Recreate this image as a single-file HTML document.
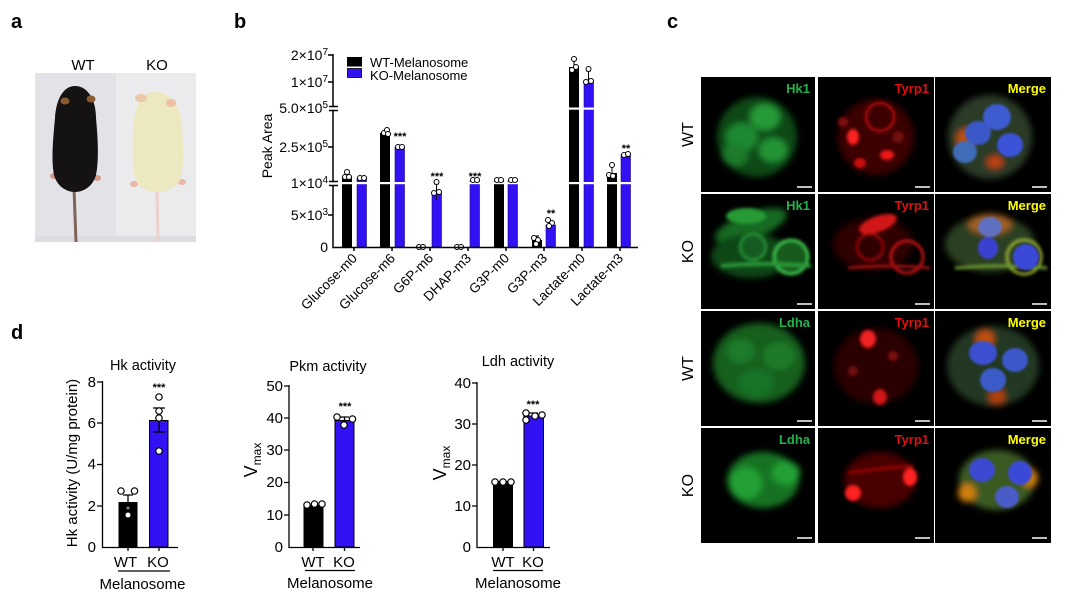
<!DOCTYPE html>
<html><head><meta charset="utf-8"><style>
html,body{margin:0;padding:0;background:#fff;}
svg{display:block;font-family:"Liberation Sans",Arial,sans-serif;}
</style></head><body>
<svg width="1065" height="603" viewBox="0 0 1065 603" xmlns="http://www.w3.org/2000/svg">
<defs>
<filter id="b1" x="-30%" y="-30%" width="160%" height="160%"><feGaussianBlur stdDeviation="1.6"/></filter>
<filter id="b2" x="-30%" y="-30%" width="160%" height="160%"><feGaussianBlur stdDeviation="3.2"/></filter>
<filter id="b3" x="-30%" y="-30%" width="160%" height="160%"><feGaussianBlur stdDeviation="1"/></filter>
</defs>
<rect width="1065" height="603" fill="#fff"/>

<!-- panel letters -->
<g font-weight="bold" font-size="20" fill="#000">
<text x="11" y="28">a</text>
<text x="234" y="28">b</text>
<text x="667" y="28">c</text>
<text x="11" y="339">d</text>
</g>

<!-- ===== Panel a ===== -->
<text x="83" y="70" font-size="15" text-anchor="middle">WT</text>
<text x="157" y="70" font-size="15" text-anchor="middle">KO</text>
<rect x="35" y="73" width="81" height="169" fill="#e3e3e7"/>
<rect x="116" y="73" width="80" height="169" fill="#ebebed"/>
<rect x="35" y="236" width="161" height="6" fill="#dcdce2"/>
<!-- black mouse -->
<line x1="74" y1="188" x2="76" y2="242" stroke="#7d6456" stroke-width="3"/>
<ellipse cx="54" cy="176" rx="4" ry="3" fill="#d49a8a"/>
<ellipse cx="97" cy="178" rx="4" ry="3" fill="#d49a8a"/>
<path d="M75,86 C88,86 96,100 96,118 C98,140 99,160 96,175 C93,186 84,192 75,192 C66,192 57,186 54,175 C51,160 53,140 55,118 C56,100 63,86 75,86 Z" fill="#141212"/>
<ellipse cx="65" cy="101" rx="4.5" ry="3.5" fill="#8a5a30"/>
<ellipse cx="91" cy="99" rx="4.5" ry="3.5" fill="#8a5a30"/>
<!-- white mouse -->
<line x1="157" y1="188" x2="158" y2="242" stroke="#ecd2cc" stroke-width="3"/>
<ellipse cx="134" cy="184" rx="4" ry="3" fill="#e9b7a8"/>
<ellipse cx="182" cy="182" rx="4" ry="3" fill="#e9b7a8"/>
<path d="M155,92 C170,92 180,105 181,120 C184,145 184,165 181,178 C177,188 166,192 158,192 C148,192 138,188 135,178 C132,163 132,140 134,120 C136,105 142,92 155,92 Z" fill="#ece8bf"/>
<ellipse cx="141" cy="98" rx="6" ry="4" fill="#ecc9a8"/>
<ellipse cx="171" cy="103" rx="5" ry="4" fill="#efbfa6"/>

<!-- ===== Panel b ===== -->
<g font-size="14" text-anchor="end">
<text x="328" y="60">2×10<tspan dy="-5" font-size="10">7</tspan></text>
<text x="328" y="87">1×10<tspan dy="-5" font-size="10">7</tspan></text>
<text x="328" y="113">5.0×10<tspan dy="-5" font-size="10">5</tspan></text>
<text x="328" y="152">2.5×10<tspan dy="-5" font-size="10">5</tspan></text>
<text x="328" y="188">1×10<tspan dy="-5" font-size="10">4</tspan></text>
<text x="328" y="220">5×10<tspan dy="-5" font-size="10">3</tspan></text>
<text x="328" y="252">0</text>
</g>
<text transform="translate(272,146) rotate(-90)" font-size="14" text-anchor="middle">Peak Area</text>

<!-- bars WT -->
<g fill="#000">
<rect x="342" y="177" width="10" height="70"/>
<rect x="380" y="133" width="10" height="114"/>
<rect x="494" y="181" width="10" height="66"/>
<rect x="532" y="240" width="10" height="7"/>
<rect x="569" y="67" width="10" height="180"/>
<rect x="607" y="173" width="10" height="74"/>
</g>
<!-- bars KO -->
<g fill="#3311f5" stroke="#1a0880" stroke-width="0.6">
<rect x="357" y="178" width="9.5" height="69"/>
<rect x="395" y="147" width="9.5" height="100"/>
<rect x="432" y="192" width="9.5" height="55"/>
<rect x="470" y="181" width="9.5" height="66"/>
<rect x="508" y="181" width="9.5" height="66"/>
<rect x="546" y="225" width="9.5" height="22"/>
<rect x="584" y="80" width="9.5" height="167"/>
<rect x="621" y="155" width="9.5" height="92"/>
</g>
<!-- break gaps -->
<rect x="334" y="182" width="305" height="2.2" fill="#fff"/>
<rect x="334" y="107.5" width="305" height="2.2" fill="#fff"/>
<!-- error bars b -->
<g stroke="#000" stroke-width="1" fill="none">
<path d="M347,171V177M345,171H349"/>
<path d="M436.5,184V192M434,184H439M436.5,196V200"/>
<path d="M574,60V67M572,60H576"/>
<path d="M588.5,71V80M586,71H591"/>
<path d="M612,166V173M610,166H614"/>
<path d="M537,236V240M535,236H539"/>
</g>
<!-- circles b -->
<g fill="#fff" stroke="#000" stroke-width="1">
<circle cx="347" cy="172" r="2.5"/><circle cx="345" cy="177" r="2.5"/><circle cx="349" cy="177" r="2.5"/>
<circle cx="360" cy="178" r="2.5"/><circle cx="364" cy="178" r="2.5"/>
<circle cx="384" cy="133" r="2.5"/><circle cx="387" cy="130" r="2.5"/><circle cx="388" cy="134" r="2.5"/>
<circle cx="398" cy="147" r="2.5"/><circle cx="402" cy="147" r="2.5"/>
<circle cx="419" cy="247" r="2.5"/><circle cx="423" cy="247" r="2.5"/>
<circle cx="436.5" cy="182" r="2.5"/><circle cx="434" cy="193" r="2.5"/><circle cx="439" cy="192" r="2.5"/>
<circle cx="457" cy="247" r="2.5"/><circle cx="461" cy="247" r="2.5"/>
<circle cx="473" cy="180" r="2.5"/><circle cx="477" cy="180" r="2.5"/>
<circle cx="497" cy="180" r="2.5"/><circle cx="501" cy="180" r="2.5"/>
<circle cx="511" cy="180" r="2.5"/><circle cx="515" cy="180" r="2.5"/>
<circle cx="534" cy="238" r="2.5"/><circle cx="538" cy="240" r="2.5"/><circle cx="536" cy="244" r="2.5"/>
<circle cx="548" cy="220" r="2.5"/><circle cx="552" cy="223" r="2.5"/><circle cx="549" cy="226" r="2.5"/>
<circle cx="574" cy="59" r="2.5"/><circle cx="572" cy="70" r="2.5"/><circle cx="576" cy="67" r="2.5"/>
<circle cx="588.5" cy="69" r="2.5"/><circle cx="586" cy="82" r="2.5"/><circle cx="591" cy="81" r="2.5"/>
<circle cx="612" cy="165" r="2.5"/><circle cx="609" cy="175" r="2.5"/><circle cx="613" cy="176" r="2.5"/>
<circle cx="624" cy="155" r="2.5"/><circle cx="628" cy="154" r="2.5"/>
</g>
<!-- stars b -->
<g font-size="11" font-weight="bold" text-anchor="middle">
<text x="400" y="140">***</text>
<text x="437" y="180">***</text>
<text x="475" y="180">***</text>
<text x="551" y="217">**</text>
<text x="626" y="152">**</text>
</g>
<!-- axes b -->
<g stroke="#000" stroke-width="1.5" fill="none">
<path d="M333,54V106M333,111V181M333,186V247.5H638"/>
<path d="M328,55H333M328,82H333M328,147H333M328,215H333"/>
<path d="M329,106.5H338M329,110.5H338M329,181.5H338M329,185.5H338"/>
<path d="M354,247V251M392,247V251M430,247V251M468,247V251M506,247V251M544,247V251M582,247V251M620,247V251"/>
</g>
<!-- legend -->
<rect x="347" y="57" width="15" height="9.5" fill="#000"/>
<rect x="347.5" y="68.5" width="14" height="9" fill="#3311f5" stroke="#000" stroke-width="0.8"/>
<text x="370" y="67" font-size="13">WT-Melanosome</text>
<text x="370" y="80" font-size="13">KO-Melanosome</text>
<!-- x labels -->
<g font-size="13.5" text-anchor="end">
<text transform="translate(358,259) rotate(-45)">Glucose-m0</text>
<text transform="translate(396,259) rotate(-45)">Glucose-m6</text>
<text transform="translate(434,259) rotate(-45)">G6P-m6</text>
<text transform="translate(472,259) rotate(-45)">DHAP-m3</text>
<text transform="translate(510,259) rotate(-45)">G3P-m0</text>
<text transform="translate(548,259) rotate(-45)">G3P-m3</text>
<text transform="translate(586,259) rotate(-45)">Lactate-m0</text>
<text transform="translate(624,259) rotate(-45)">Lactate-m3</text>
</g>

<!-- ===== Panel d ===== -->
<!-- Hk -->
<text x="143" y="370" font-size="14.5" text-anchor="middle">Hk activity</text>
<text transform="translate(77,463) rotate(-90)" font-size="15" text-anchor="middle">Hk activity (U/mg protein)</text>
<g font-size="15" text-anchor="end">
<text x="96" y="387">8</text><text x="96" y="428">6</text><text x="96" y="469">4</text><text x="96" y="511">2</text><text x="96" y="552">0</text>
</g>
<rect x="118.5" y="502" width="19" height="45" fill="#000"/>
<rect x="149.5" y="420.5" width="18.5" height="126.5" fill="#3311f5" stroke="#000" stroke-width="1"/>
<g stroke="#000" stroke-width="1.3" fill="none">
<path d="M128,495V502M123,495H133"/>
<path d="M159,408V432M153,408H165M153,432H165"/>
<path d="M102.5,381V547.5H178"/>
<path d="M97,382H102M97,423H102M97,464.5H102M97,506H102"/>
<path d="M128,547V551M159,547V551"/>
</g>
<g fill="#fff" stroke="#000" stroke-width="1.2">
<circle cx="121" cy="491" r="3.2"/><circle cx="134.5" cy="491" r="3.2"/>
<circle cx="159" cy="397" r="3.2"/><circle cx="159" cy="411" r="3.2"/><circle cx="159" cy="418" r="3.2"/><circle cx="159" cy="451" r="3.2"/>
</g>
<circle cx="128" cy="515" r="2.5" fill="#fff"/>
<circle cx="128" cy="508" r="1.5" fill="#888"/>
<text x="159" y="391" font-size="11" font-weight="bold" text-anchor="middle">***</text>
<g font-size="15" text-anchor="middle">
<text x="125.5" y="567">WT</text><text x="158" y="567">KO</text>
<text x="142.5" y="589">Melanosome</text>
</g>
<line x1="118" y1="571" x2="170" y2="571" stroke="#000" stroke-width="1.3"/>

<!-- Pkm -->
<text x="328" y="371" font-size="14.5" text-anchor="middle">Pkm activity</text>
<text transform="translate(257,460) rotate(-90)" font-size="18" text-anchor="middle">V<tspan font-size="12" dy="4">max</tspan></text>
<g font-size="15" text-anchor="end">
<text x="283" y="391">50</text><text x="283" y="423">40</text><text x="283" y="455">30</text><text x="283" y="487">20</text><text x="283" y="520">10</text><text x="283" y="552">0</text>
</g>
<rect x="303.5" y="505" width="20" height="42" fill="#000"/>
<rect x="335" y="420.5" width="19" height="126.5" fill="#3311f5" stroke="#000" stroke-width="1"/>
<g stroke="#000" stroke-width="1.3" fill="none">
<path d="M289,385V547.5H360"/>
<path d="M284,386H289M284,418H289M284,450H289M284,482.5H289M284,515H289"/>
<path d="M313,547V551M344.5,547V551"/>
<path d="M344.5,417V423M340,417H349"/>
</g>
<g fill="#fff" stroke="#000" stroke-width="1.2">
<circle cx="307" cy="505" r="3.2"/><circle cx="314.5" cy="504" r="3.2"/><circle cx="322" cy="504" r="3.2"/>
<circle cx="337" cy="417" r="3.2"/><circle cx="344" cy="425" r="3.2"/><circle cx="352.5" cy="419" r="3.2"/>
</g>
<text x="345" y="410" font-size="11" font-weight="bold" text-anchor="middle">***</text>
<g font-size="15" text-anchor="middle">
<text x="313" y="567">WT</text><text x="344" y="567">KO</text>
<text x="330" y="588">Melanosome</text>
</g>
<line x1="305" y1="570.5" x2="355" y2="570.5" stroke="#000" stroke-width="1.3"/>

<!-- Ldh -->
<text x="518" y="366" font-size="14.5" text-anchor="middle">Ldh activity</text>
<text transform="translate(446,463) rotate(-90)" font-size="18" text-anchor="middle">V<tspan font-size="12" dy="4">max</tspan></text>
<g font-size="15" text-anchor="end">
<text x="471" y="388">40</text><text x="471" y="429">30</text><text x="471" y="470">20</text><text x="471" y="511">10</text><text x="471" y="552">0</text>
</g>
<rect x="493" y="481" width="20" height="66" fill="#000"/>
<rect x="524" y="416" width="19.5" height="131" fill="#3311f5" stroke="#000" stroke-width="1"/>
<g stroke="#000" stroke-width="1.3" fill="none">
<path d="M477,382V547.5H550"/>
<path d="M472,383H477M472,424H477M472,465H477M472,506H477"/>
<path d="M503,547V551M533.5,547V551"/>
<path d="M533.5,413V418M529,413H538"/>
</g>
<g fill="#fff" stroke="#000" stroke-width="1.2">
<circle cx="495" cy="482" r="3.2"/><circle cx="503" cy="482" r="3.2"/><circle cx="511" cy="482" r="3.2"/>
<circle cx="526" cy="413" r="3.2"/><circle cx="526" cy="420" r="3.2"/><circle cx="535" cy="416" r="3.2"/><circle cx="542" cy="415" r="3.2"/>
</g>
<text x="533" y="408" font-size="11" font-weight="bold" text-anchor="middle">***</text>
<g font-size="15" text-anchor="middle">
<text x="503" y="567">WT</text><text x="533" y="567">KO</text>
<text x="518" y="588">Melanosome</text>
</g>
<line x1="493" y1="570.5" x2="543" y2="570.5" stroke="#000" stroke-width="1.3"/>

<!-- ===== Panel c ===== -->
<g font-size="16" text-anchor="middle">
<text transform="translate(693,134.5) rotate(-90)">WT</text>
<text transform="translate(693,251.5) rotate(-90)">KO</text>
<text transform="translate(693,368.5) rotate(-90)">WT</text>
<text transform="translate(693,485.5) rotate(-90)">KO</text>
</g>

<!-- Row 1 -->
<svg x="701" y="77" width="114" height="115">
<rect width="114" height="115" fill="#000"/>
<g filter="url(#b2)">
<ellipse cx="56" cy="60" rx="40" ry="40" fill="#0d4a18"/>
<ellipse cx="64" cy="40" rx="15" ry="13" fill="#259a38"/>
<ellipse cx="41" cy="60" rx="16" ry="14" fill="#1f8a30"/>
<ellipse cx="72" cy="73" rx="14" ry="12" fill="#239436"/>
<ellipse cx="34" cy="78" rx="13" ry="11" fill="#1a7c2a"/>
</g>
<text x="109" y="16" font-size="13" font-weight="bold" fill="#22b24c" text-anchor="end">Hk1</text>
<line x1="96" y1="110" x2="111" y2="110" stroke="#fff" stroke-width="1.5"/>
</svg>
<svg x="818" y="77" width="116" height="115">
<rect width="116" height="115" fill="#000"/>
<g filter="url(#b2)">
<ellipse cx="58" cy="60" rx="38" ry="38" fill="#3a0202"/>
</g>
<g filter="url(#b1)">
<circle cx="62" cy="40" r="14" fill="none" stroke="#c01010" stroke-width="2.5"/>
<ellipse cx="35" cy="60" rx="6" ry="8" fill="#ff2020"/>
<ellipse cx="69" cy="78" rx="7" ry="5" fill="#f01818"/>
<ellipse cx="42" cy="86" rx="6" ry="5" fill="#d01010"/>
<circle cx="25" cy="45" r="5" fill="#801010"/>
<circle cx="80" cy="60" r="6" fill="#701010"/>
</g>
<text x="111" y="16" font-size="13" font-weight="bold" fill="#e01010" text-anchor="end">Tyrp1</text>
<line x1="97" y1="110" x2="112" y2="110" stroke="#fff" stroke-width="1.5"/>
</svg>
<svg x="935" y="77" width="116" height="115">
<rect width="116" height="115" fill="#000"/>
<g filter="url(#b2)">
<ellipse cx="55" cy="60" rx="42" ry="42" fill="#2b3a28"/>
<ellipse cx="30" cy="62" rx="8" ry="10" fill="#c05010"/>
<ellipse cx="60" cy="85" rx="8" ry="6" fill="#c04010"/>
</g>
<g filter="url(#b3)">
<ellipse cx="62" cy="40" rx="14" ry="13" fill="#3e5cd0"/>
<ellipse cx="43" cy="56" rx="13" ry="12" fill="#3a58c8"/>
<ellipse cx="75" cy="68" rx="13" ry="12" fill="#3a52d8"/>
<ellipse cx="30" cy="75" rx="12" ry="11" fill="#3f6cb8"/>
</g>
<text x="111" y="16" font-size="13" font-weight="bold" fill="#ffff00" text-anchor="end">Merge</text>
<line x1="97" y1="110" x2="112" y2="110" stroke="#fff" stroke-width="1.5"/>
</svg>

<!-- Row 2 -->
<svg x="701" y="194" width="114" height="115">
<rect width="114" height="115" fill="#000"/>
<g filter="url(#b2)">
<ellipse cx="50" cy="32" rx="38" ry="13" transform="rotate(-20 50 32)" fill="#176a22"/>
<ellipse cx="50" cy="62" rx="40" ry="22" fill="#0e4616"/>
</g>
<g filter="url(#b1)">
<circle cx="52" cy="53" r="13" fill="#165c20" stroke="#2aa03a" stroke-width="2"/>
<circle cx="90" cy="63" r="17" fill="#145a1e" stroke="#3cc04c" stroke-width="3"/>
<path d="M20,72 Q60,68 110,72" stroke="#2a9a38" stroke-width="4" fill="none"/>
<ellipse cx="45" cy="22" rx="20" ry="8" fill="#289a36"/>
</g>
<text x="109" y="16" font-size="13" font-weight="bold" fill="#22b24c" text-anchor="end">Hk1</text>
<line x1="96" y1="110" x2="111" y2="110" stroke="#fff" stroke-width="1.5"/>
</svg>
<svg x="818" y="194" width="116" height="115">
<rect width="116" height="115" fill="#000"/>
<g filter="url(#b2)">
<ellipse cx="55" cy="50" rx="40" ry="26" fill="#2e0202"/>
</g>
<g filter="url(#b1)">
<ellipse cx="60" cy="30" rx="20" ry="8" transform="rotate(-20 60 30)" fill="#d01818"/>
<circle cx="52" cy="53" r="13" fill="none" stroke="#c01010" stroke-width="2"/>
<circle cx="89" cy="63" r="16" fill="none" stroke="#e01818" stroke-width="2.5"/>
<path d="M30,74 Q70,70 112,74" stroke="#a01010" stroke-width="3" fill="none"/>
</g>
<text x="111" y="16" font-size="13" font-weight="bold" fill="#e01010" text-anchor="end">Tyrp1</text>
<line x1="97" y1="110" x2="112" y2="110" stroke="#fff" stroke-width="1.5"/>
</svg>
<svg x="935" y="194" width="116" height="115">
<rect width="116" height="115" fill="#000"/>
<g filter="url(#b2)">
<ellipse cx="55" cy="50" rx="45" ry="28" fill="#2a4020"/>
<ellipse cx="55" cy="30" rx="22" ry="10" fill="#a06020"/>
</g>
<g filter="url(#b1)">
<circle cx="89" cy="63" r="17" fill="none" stroke="#9ab030" stroke-width="3"/>
<path d="M20,74 Q70,70 112,74" stroke="#70a030" stroke-width="3" fill="none"/>
</g>
<g filter="url(#b3)">
<ellipse cx="55" cy="33" rx="12" ry="10" fill="#6070c0"/>
<ellipse cx="53" cy="54" rx="10" ry="11" fill="#3a40d0"/>
<ellipse cx="91" cy="63" rx="13" ry="13" fill="#3a48d8"/>
</g>
<text x="111" y="16" font-size="13" font-weight="bold" fill="#ffff00" text-anchor="end">Merge</text>
<line x1="97" y1="110" x2="112" y2="110" stroke="#fff" stroke-width="1.5"/>
</svg>

<!-- Row 3 -->
<svg x="701" y="311" width="114" height="115">
<rect width="114" height="115" fill="#000"/>
<g filter="url(#b2)">
<ellipse cx="58" cy="52" rx="46" ry="40" fill="#125e1e"/>
<ellipse cx="40" cy="40" rx="14" ry="12" fill="#1a7c2a"/>
<ellipse cx="78" cy="45" rx="16" ry="14" fill="#1a7a28"/>
<ellipse cx="55" cy="72" rx="18" ry="14" fill="#187426"/>
</g>
<text x="109" y="16" font-size="13" font-weight="bold" fill="#22b24c" text-anchor="end">Ldha</text>
<line x1="96" y1="110" x2="111" y2="110" stroke="#fff" stroke-width="1.5"/>
</svg>
<svg x="818" y="311" width="116" height="115">
<rect width="116" height="115" fill="#000"/>
<g filter="url(#b2)">
<ellipse cx="58" cy="55" rx="42" ry="38" fill="#2a0202"/>
</g>
<g filter="url(#b1)">
<ellipse cx="50" cy="28" rx="8" ry="9" fill="#f02020"/>
<ellipse cx="62" cy="86" rx="7" ry="8" fill="#d01414"/>
<circle cx="75" cy="45" r="5" fill="#801010"/>
<circle cx="35" cy="60" r="5" fill="#701010"/>
</g>
<text x="111" y="16" font-size="13" font-weight="bold" fill="#e01010" text-anchor="end">Tyrp1</text>
<line x1="97" y1="110" x2="112" y2="110" stroke="#fff" stroke-width="1.5"/>
</svg>
<svg x="935" y="311" width="116" height="115">
<rect width="116" height="115" fill="#000"/>
<g filter="url(#b2)">
<ellipse cx="58" cy="55" rx="46" ry="40" fill="#243820"/>
<ellipse cx="50" cy="28" rx="9" ry="9" fill="#c05010"/>
<ellipse cx="62" cy="86" rx="8" ry="8" fill="#b04010"/>
</g>
<g filter="url(#b3)">
<ellipse cx="48" cy="42" rx="14" ry="12" fill="#3a50d0"/>
<ellipse cx="80" cy="49" rx="13" ry="12" fill="#3a58c8"/>
<ellipse cx="58" cy="69" rx="13" ry="12" fill="#3a5cc8"/>
</g>
<text x="111" y="16" font-size="13" font-weight="bold" fill="#ffff00" text-anchor="end">Merge</text>
<line x1="97" y1="110" x2="112" y2="110" stroke="#fff" stroke-width="1.5"/>
</svg>

<!-- Row 4 -->
<svg x="701" y="428" width="114" height="115">
<rect width="114" height="115" fill="#000"/>
<g filter="url(#b2)">
<ellipse cx="62" cy="52" rx="36" ry="28" fill="#167222"/>
<ellipse cx="45" cy="55" rx="16" ry="16" fill="#22a034"/>
<ellipse cx="85" cy="45" rx="14" ry="12" fill="#22a034"/>
</g>
<text x="109" y="16" font-size="13" font-weight="bold" fill="#22b24c" text-anchor="end">Ldha</text>
<line x1="96" y1="110" x2="111" y2="110" stroke="#fff" stroke-width="1.5"/>
</svg>
<svg x="818" y="428" width="116" height="115">
<rect width="116" height="115" fill="#000"/>
<g filter="url(#b2)">
<ellipse cx="62" cy="52" rx="36" ry="28" fill="#4a0404"/>
</g>
<g filter="url(#b1)">
<ellipse cx="35" cy="65" rx="8" ry="8" fill="#ff2020"/>
<ellipse cx="92" cy="49" rx="7" ry="9" fill="#ff2020"/>
<path d="M30,45 Q60,40 95,38" stroke="#c01010" stroke-width="2" fill="none"/>
</g>
<text x="111" y="16" font-size="13" font-weight="bold" fill="#e01010" text-anchor="end">Tyrp1</text>
<line x1="97" y1="110" x2="112" y2="110" stroke="#fff" stroke-width="1.5"/>
</svg>
<svg x="935" y="428" width="116" height="115">
<rect width="116" height="115" fill="#000"/>
<g filter="url(#b2)">
<ellipse cx="62" cy="52" rx="38" ry="30" fill="#3a5a22"/>
<ellipse cx="32" cy="65" rx="9" ry="9" fill="#d08010"/>
<ellipse cx="95" cy="50" rx="8" ry="9" fill="#d08010"/>
</g>
<g filter="url(#b3)">
<ellipse cx="47" cy="42" rx="13" ry="12" fill="#3a48d0"/>
<ellipse cx="85" cy="45" rx="12" ry="12" fill="#3a48d8"/>
<ellipse cx="72" cy="69" rx="12" ry="11" fill="#4a5cc8"/>
</g>
<text x="111" y="16" font-size="13" font-weight="bold" fill="#ffff00" text-anchor="end">Merge</text>
<line x1="97" y1="110" x2="112" y2="110" stroke="#fff" stroke-width="1.5"/>
</svg>

</svg>
</body></html>
